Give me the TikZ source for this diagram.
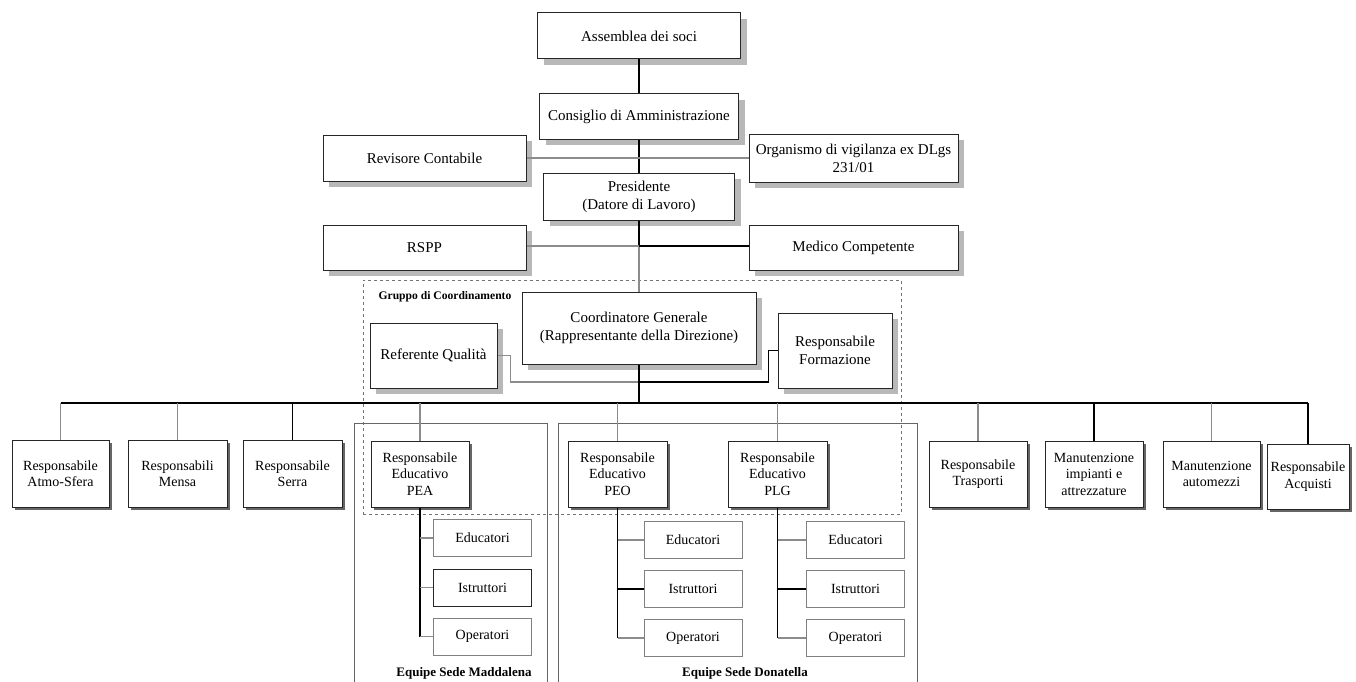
\documentclass[tikz,border=0pt]{standalone}
\usepackage{fontspec}
\setmainfont{Liberation Serif}
\usetikzlibrary{shadows}
\tikzset{
  base/.style={draw=black!85, line width=1pt, fill=white, inner sep=0pt, align=center},
  topbox/.style={base, font=\fontsize{15}{18}\selectfont,
    drop shadow={shadow xshift=6pt, shadow yshift=-6pt, fill=black!28, opacity=1}},
  lowbox/.style={base, font=\fontsize{14}{16.5}\selectfont,
    drop shadow={shadow xshift=3pt, shadow yshift=-3pt, fill=black!60, opacity=1}},
  subbox/.style={draw=black!50, line width=1pt, fill=white, inner sep=0pt, align=center,
    font=\fontsize{14}{17}\selectfont, minimum width=98pt, minimum height=37pt},
  teambox/.style={draw=black!60, line width=1pt, inner sep=0pt},
  groupbox/.style={draw=black!55, dashed, line width=1pt, inner sep=0pt},
  gline/.style={draw=black!45, line width=1.2pt},
  bline/.style={draw=black, line width=1.2pt},
  thickline/.style={draw=black, line width=2pt},
  caption/.style={font=\bfseries\fontsize{13}{15}\selectfont, inner sep=0pt},
}
\begin{document}
\begin{tikzpicture}[x=1pt,y=-1pt]
\useasboundingbox[fill=white] (0,0) rectangle (1356,682);

% group and team frames
\node[groupbox, minimum width=538pt, minimum height=234pt] (grp) at (632,397) {};
\node[caption, font=\bfseries\fontsize{11.6}{13}\selectfont] (grplabel) at (445,297) {Gruppo di Coordinamento};
\node[teambox, minimum width=193pt, minimum height=290pt] (madd) at (450.5,568) {};
\node[teambox, minimum width=359pt, minimum height=290pt] (dona) at (737.5,568) {};
\node[caption] (maddlabel) at (464,673) {Equipe Sede Maddalena};
\node[caption] (donalabel) at (745,673) {Equipe Sede Donatella};

% top column
\node[topbox, minimum width=203pt, minimum height=46pt] (ass) at (639,36) {Assemblea dei soci};
\node[topbox, minimum width=199pt, minimum height=45pt] (cda) at (639,116.5) {Consiglio di Amministrazione};
\node[topbox, minimum width=203pt, minimum height=46pt] (rev) at (424.5,158) {Revisore Contabile};
\node[topbox, minimum width=209pt, minimum height=48pt] (odv) at (853.5,158) {Organismo di vigilanza ex DLgs\\231/01};
\node[topbox, minimum width=191pt, minimum height=47pt] (pres) at (639,196.5) {Presidente\\(Datore di Lavoro)};
\node[topbox, minimum width=203pt, minimum height=45pt] (rspp) at (424.5,247.5) {RSPP};
\node[topbox, minimum width=209pt, minimum height=45pt] (med) at (853.5,247.5) {Medico Competente};
\node[topbox, minimum width=234pt, minimum height=72pt] (coord) at (639,328) {Coordinatore Generale\\(Rappresentante della Direzione)};
\node[topbox, minimum width=127pt, minimum height=65pt] (refq) at (433.5,355.5) {Referente Qualità};
\node[topbox, minimum width=114pt, minimum height=75pt] (form) at (835,350.5) {Responsabile\\Formazione};

% bottom row
\node[lowbox, minimum width=97pt, minimum height=67pt] (atmo) at (60.5,473.5) {Responsabile\\Atmo-Sfera};
\node[lowbox, minimum width=99pt, minimum height=67pt] (mensa) at (177.5,473.5) {Responsabili\\Mensa};
\node[lowbox, minimum width=99pt, minimum height=67pt] (serra) at (292.5,473.5) {Responsabile\\Serra};
\node[lowbox, minimum width=98pt, minimum height=66pt] (pea) at (420,474) {Responsabile\\Educativo\\PEA};
\node[lowbox, minimum width=99pt, minimum height=66pt] (peo) at (617.5,474) {Responsabile\\Educativo\\PEO};
\node[lowbox, minimum width=99pt, minimum height=66pt] (plg) at (777.5,474) {Responsabile\\Educativo\\PLG};
\node[lowbox, minimum width=98pt, minimum height=66pt] (tras) at (978,474) {Responsabile\\Trasporti};
\node[lowbox, minimum width=98pt, minimum height=66pt] (mimp) at (1094,474) {Manutenzione\\impianti e\\attrezzature};
\node[lowbox, minimum width=97pt, minimum height=66pt] (mauto) at (1211.5,474) {Manutenzione\\automezzi};
\node[lowbox, minimum width=82pt, minimum height=65pt] (acq) at (1308,476.5) {Responsabile\\Acquisti};

% sub boxes
\node[subbox] (ed1) at (482.5,538) {Educatori};
\node[subbox, draw=black!85] (is1) at (482.5,587.5) {Istruttori};
\node[subbox] (op1) at (482.5,636.5) {Operatori};
\node[subbox] (ed2) at (693,540) {Educatori};
\node[subbox] (is2) at (693,589) {Istruttori};
\node[subbox] (op2) at (693,638) {Operatori};
\node[subbox] (ed3) at (855.5,540) {Educatori};
\node[subbox] (is3) at (855.5,589) {Istruttori};
\node[subbox] (op3) at (855.5,638) {Operatori};

% junctions
\coordinate (j1) at (639,246);
\coordinate (jq) at (639,382);
\coordinate (bus) at (639,403);

% connectors, top
\draw[bline] (ass.south) -- (cda.north);
\draw[bline] (cda.south) -- (pres.north);
\draw[gline] (rev.east) -- (rev.east -| odv.west);
\draw[bline] (pres.south) -- (j1);
\draw[gline] (j1) -- (coord.north);
\draw[gline] (rspp.east |- j1) -- (j1);
\draw[bline] (j1) -- (med.west |- j1);
\draw[gline] (refq.east) -- ++(13,0) |- (jq);
\draw[bline] (form.west) -- ++(-9,0) |- (jq);
\draw[thickline] (coord.south) -- (bus);

% bus and drops
\draw[bline] (atmo.north |- bus) -- (acq.north |- bus);
\draw[gline] (atmo.north |- bus) -- (atmo.north);
\draw[gline] (mensa.north |- bus) -- (mensa.north);
\draw[bline] (serra.north |- bus) -- (serra.north);
\draw[gline] (pea.north |- bus) -- (pea.north);
\draw[gline] (peo.north |- bus) -- (peo.north);
\draw[gline] (plg.north |- bus) -- (plg.north);
\draw[gline] (tras.north |- bus) -- (tras.north);
\draw[bline] (mimp.north |- bus) -- (mimp.north);
\draw[gline] (mauto.north |- bus) -- (mauto.north);
\draw[bline] (acq.north |- bus) -- (acq.north);

% team branches
\draw[bline] (pea.south) -- (pea.south |- op1.west);
\draw[gline] (pea.south |- ed1.west) -- (ed1.west);
\draw[gline] (pea.south |- is1.west) -- (is1.west);
\draw[gline] (pea.south |- op1.west) -- (op1.west);
\draw[bline] (peo.south) -- (peo.south |- op2.west);
\draw[gline] (peo.south |- ed2.west) -- (ed2.west);
\draw[bline] (peo.south |- is2.west) -- (is2.west);
\draw[gline] (peo.south |- op2.west) -- (op2.west);
\draw[bline] (plg.south) -- (plg.south |- op3.west);
\draw[gline] (plg.south |- ed3.west) -- (ed3.west);
\draw[bline] (plg.south |- is3.west) -- (is3.west);
\draw[gline] (plg.south |- op3.west) -- (op3.west);
\end{tikzpicture}
\end{document}
